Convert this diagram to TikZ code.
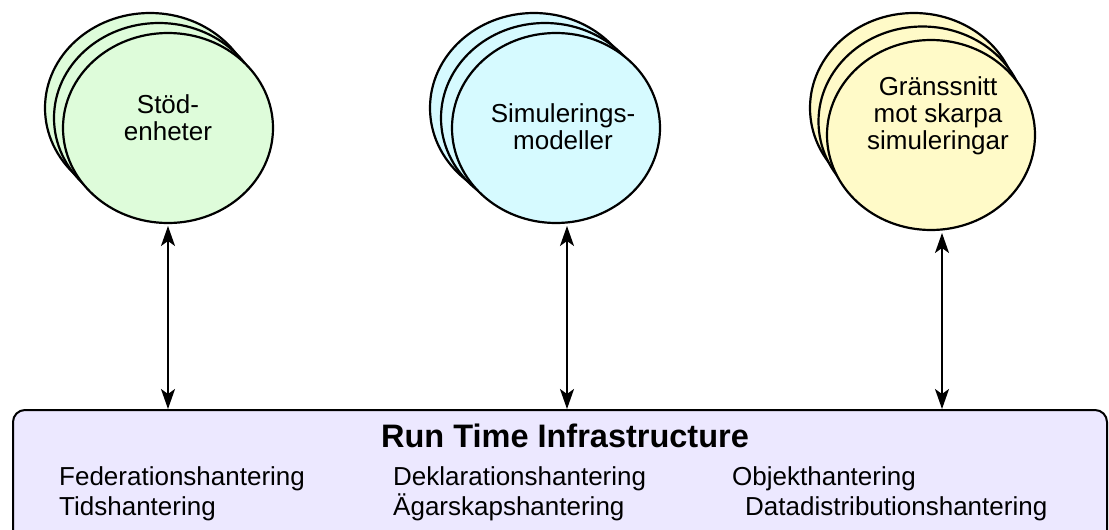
\documentclass[tikz,border=0pt]{standalone}
\usepackage{fontspec}
\setmainfont{Liberation Sans}
\usetikzlibrary{arrows.meta}
\definecolor{cgreen}{RGB}{222,252,218}
\definecolor{ccyan}{RGB}{214,250,255}
\definecolor{cyellow}{RGB}{255,250,200}
\definecolor{clav}{RGB}{236,232,255}
\tikzset{
  blob/.style={line width=2.2pt},
  lbl/.style={align=center, font=\fontsize{26}{27}\selectfont, inner sep=0pt},
  rowtxt/.style={anchor=base west, font=\fontsize{26}{30}\selectfont, inner sep=0pt},
  link/.style={line width=1.8pt, {Stealth[length=20pt,width=14pt,inset=5pt]}-{Stealth[length=20pt,width=14pt,inset=5pt]}},
}
\begin{document}
\begin{tikzpicture}[x=1pt,y=-1pt]
\useasboundingbox (0,0) rectangle (1109,530);
% left group
\foreach \i/\dx/\dy in {2/-18/-20,1/-9/-10,0/0/0}{
  \draw[blob, fill=cgreen] (168+\dx,128+\dy) ellipse [x radius=105, y radius=95];
}
\node[lbl] (l1) at (168,118) {Stöd-\\enheter};
% middle group
\foreach \i/\dx/\dy in {2/-22/-20,1/-11/-10,0/0/0}{
  \draw[blob, fill=ccyan] (556+\dx,128+\dy) ellipse [x radius=104, y radius=95];
}
\node[lbl] (l2) at (563,127) {Simulerings-\\modeller};
% right group
\foreach \i/\dx/\dy in {2/-17/-27,1/-8.5/-13.5,0/0/0}{
  \draw[blob, fill=cyellow] (931+\dx,135+\dy) ellipse [x radius=104, y radius=95];
}
\node[lbl] (l3) at (938,116) {Gränssnitt\\mot skarpa\\simuleringar};
% RTI box
\draw[line width=2pt, fill=clav, rounded corners=12pt] (13,410) rectangle (1107,560);
\node[inner sep=0pt, anchor=base, font=\bfseries\fontsize{32.5}{36}\selectfont] (rti) at (565,447) {Run Time Infrastructure};
\node[rowtxt] (f1) at (59,485) {Federationshantering};
\node[rowtxt] (f2) at (59,515) {Tidshantering};
\node[rowtxt] (d1) at (393,485) {Deklarationshantering};
\node[rowtxt] (d2) at (393,515) {Ägarskapshantering};
\node[rowtxt] (o1) at (732,485) {Objekthantering};
\node[rowtxt] (o2) at (745,515) {Datadistributionshantering};
% connector end points
\coordinate (a1t) at (168,226);
\coordinate (a1b) at (168,409);
\coordinate (a2t) at (567,226);
\coordinate (a2b) at (567,409);
\coordinate (a3t) at (942,233);
\coordinate (a3b) at (942,409);
\draw[link] (a1t) -- (a1b);
\draw[link] (a2t) -- (a2b);
\draw[link] (a3t) -- (a3b);
\end{tikzpicture}
\end{document}
